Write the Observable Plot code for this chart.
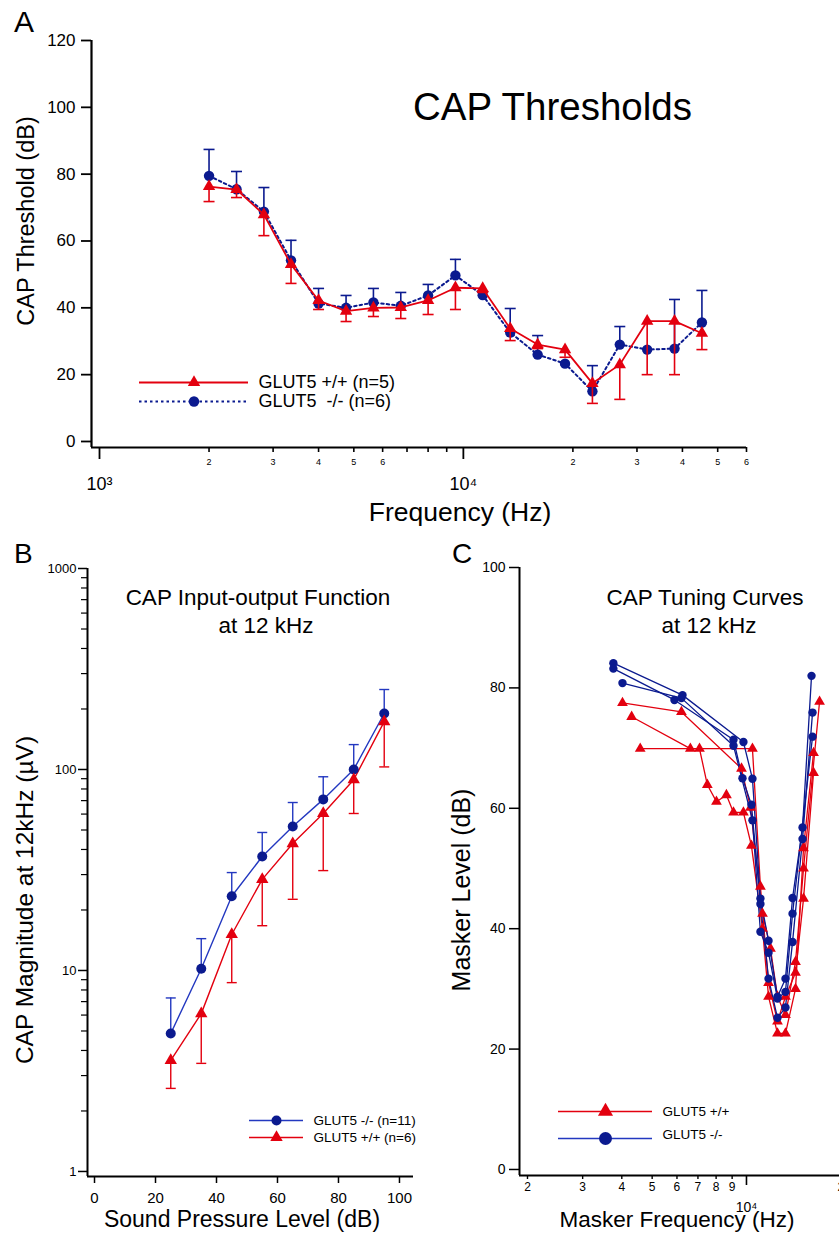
<!DOCTYPE html>
<html><head><meta charset="utf-8">
<script src="https://cdn.jsdelivr.net/npm/d3@7"></script>
<script src="https://cdn.jsdelivr.net/npm/@observablehq/plot@0.6"></script>
<style>
html,body{margin:0;padding:0;background:#fff;}
#page{position:relative;width:839px;height:1233px;overflow:hidden;background:#fff;}
.p{position:absolute;}
.p svg{max-width:none !important;}
</style></head><body><div id="page"></div>
<script>
// ---------- Panel A: CAP thresholds ----------
const freqA   = [2000, 2380, 2830, 3360, 4000, 4760, 5660, 6730, 8000, 9510, 11300, 13450, 16000, 19030, 22630, 26910, 32000, 38050, 45250];
const wtA     = [76.3, 75.4, 67.9, 53.0, 42.2, 39.0, 40.0, 40.1, 42.2, 46.0, 45.8, 33.8, 29.0, 27.5, 17.4, 23.0, 36.0, 36.0, 32.4];
const wtA_lo  = [71.8, 73.0, 61.6, 47.3, 39.5, 35.9, 37.4, 36.8, 38.0, 39.5, 44.6, 30.2, 27.8, 25.2, 11.4, 12.6, 20.0, 20.0, 27.5];
const koA     = [79.5, 75.5, 68.8, 54.2, 41.3, 40.0, 41.6, 40.6, 43.7, 49.7, 43.8, 32.6, 26.0, 23.3, 15.0, 29.0, 27.5, 27.8, 35.6];
const koA_hi  = [87.4, 80.8, 76.0, 60.2, 45.8, 43.7, 45.8, 44.6, 47.0, 54.5, 44.8, 39.8, 31.7, 23.3, 22.7, 34.4, 27.5, 42.5, 45.2];
const yTicksA = [0, 20, 40, 60, 80, 100, 120];
const minorTicksA = [2000, 3000, 4000, 5000, 6000, 7000, 8000, 9000, 20000, 30000, 40000, 50000, 60000];
const majorTicksA = [1000, 10000];
const legendA = ["GLUT5 +/+ (n=5)", "GLUT5\u00a0 -/- (n=6)"];

// ---------- Panel B: CAP input-output at 12 kHz ----------
const splB    = [25, 35, 45, 55, 65, 75, 85, 95];
const koB     = [4.86, 10.2, 23.4, 36.9, 52, 71, 100, 190];
const koB_hi  = [7.3, 14.4, 30.7, 48.6, 68.5, 92, 133, 250];
const wtB     = [3.57, 6.1, 15.1, 28.4, 42.8, 60.4, 89, 173];
const wtB_lo  = [2.59, 3.45, 8.7, 16.7, 22.6, 31.4, 60.4, 103];
const xTicksB = [0, 20, 40, 60, 80, 100];
const yMajorB = [1, 10, 100, 1000];
const yMinorB = [2,3,4,5,6,7,8,9,20,30,40,50,60,70,80,90,200,300,400,500,600,700,800,900];
const legendB = ["GLUT5 -/- (n=11)", "GLUT5 +/+ (n=6)"];

// ---------- Panel C: CAP tuning curves at 12 kHz (freq Hz, masker dB) ----------
const tcKO1 = [[3760,84.1],[6250,78.8],[9780,71.0],[10450,64.9],[11080,45.0],[11760,38.0],[12560,28.7],[13320,31.7],[14030,45.1],[15100,56.8],[16130,82.0]];
const tcKO2 = [[3760,83.2],[5890,78.0],[9090,71.4],[9710,65.0],[10370,60.6],[11080,44.1],[11760,31.7],[12560,25.2],[13320,26.9],[14030,37.8],[15100,54.9],[16250,75.9]];
const tcKO3 = [[4020,80.8],[6200,78.3],[9090,70.4],[10450,58.0],[11080,39.5],[11760,36.0],[12560,28.4],[13320,29.5],[14030,42.5],[16250,71.9]];
const tcWT1 = [[4020,77.5],[6200,76.0],[9640,66.6],[10300,60.1],[11250,42.5],[11930,36.7],[12560,28.7],[13320,25.7],[14340,34.5],[15210,50.0],[17110,77.7]];
const tcWT2 = [[4300,75.2],[6620,69.9],[7080,69.9],[7500,63.9],[8020,61.1],[8630,62.2],[9090,59.3],[9780,59.3],[10370,53.8],[11250,40.0],[11760,28.7],[12560,22.6],[13320,22.6],[14340,30.0],[15210,53.4],[16370,69.2]];
const tcWT3 = [[4580,69.9],[10450,69.9],[11080,47.0],[11760,31.0],[12560,24.6],[13320,28.7],[14340,32.7],[15210,45.0],[16370,65.9]];
const yTicksC = [0, 20, 40, 60, 80, 100];
const minorTicksC = [2000, 3000, 4000, 5000, 6000, 7000, 8000, 9000, 20000];
const majorTicksC = [10000];
const legendC = ["GLUT5 +/+", "GLUT5 -/-"];

// ---------- styling ----------
const RED = "#e3000f", NAVY = "#0b1a8f", BLUEL = "#2338c0";
const FONT = "'Liberation Sans', Arial, Helvetica, sans-serif";
const baseStyle = {fontFamily: FONT, background: "transparent", overflow: "visible", color: "#000", maxWidth: "none"};
const capSymbol = {draw(ctx, size) { const r = Math.sqrt(size / Math.PI); ctx.moveTo(-r, 0); ctx.lineTo(r, 0); }};
const sup = {"3": "\u00b3", "4": "\u2074"};
const pow10 = d => "10" + sup[String(Math.round(Math.log10(d)))];
const mant = d => String(Math.round(d / Math.pow(10, Math.floor(Math.log10(d) + 1e-9))));

const page = document.getElementById("page");
function place(node, left, top) {
  const div = document.createElement("div");
  div.className = "p"; div.style.left = left + "px"; div.style.top = top + "px";
  div.style.width = node.getAttribute("width") + "px";
  div.appendChild(node); page.appendChild(div);
}

// ---------- Panel A plot ----------
const rowsA = freqA.map((f, i) => ({f, wt: wtA[i], wtLo: wtA_lo[i], ko: koA[i], koHi: koA_hi[i]}));
const errKoA = rowsA.filter(d => d.koHi > d.ko + 0.3);
const errWtA = rowsA.filter(d => d.wtLo < d.wt - 0.3);
const xDomA = [950.6, 60000], yDomA = [-1.8, 120];
place(Plot.plot({
  width: 839, height: 530, marginLeft: 91, marginRight: 93, marginTop: 40, marginBottom: 83,
  x: {type: "log", domain: xDomA}, y: {domain: yDomA},
  style: baseStyle,
  marks: [
    Plot.ruleX([xDomA[0]], {strokeWidth: 2.2}),
    Plot.ruleY([yDomA[0]], {strokeWidth: 2.2}),
    Plot.axisY({ticks: yTicksA, tickSize: 10, tickPadding: 6, fontSize: 17, label: null, strokeWidth: 1.8}),
    Plot.axisX({ticks: minorTicksA, tickSize: 5, tickPadding: 6, fontSize: 9, tickFormat: mant, label: null, strokeWidth: 1.6}),
    Plot.axisX({ticks: majorTicksA, tickSize: 12, tickPadding: 18, fontSize: 18, tickFormat: pow10, label: null, strokeWidth: 1.8}),
    Plot.ruleX(errKoA, {x: "f", y1: "ko", y2: "koHi", stroke: NAVY, strokeWidth: 1.6}),
    Plot.dot(errKoA, {x: "f", y: "koHi", symbol: capSymbol, r: 5.5, stroke: NAVY, strokeWidth: 1.6}),
    Plot.line(rowsA, {x: "f", y: "ko", stroke: NAVY, strokeWidth: 2, strokeDasharray: "2.5,3"}),
    Plot.dot(rowsA, {x: "f", y: "ko", r: 5.2, fill: NAVY}),
    Plot.ruleX(errWtA, {x: "f", y1: "wtLo", y2: "wt", stroke: RED, strokeWidth: 1.6}),
    Plot.dot(errWtA, {x: "f", y: "wtLo", symbol: capSymbol, r: 5.5, stroke: RED, strokeWidth: 1.6}),
    Plot.line(rowsA, {x: "f", y: "wt", stroke: RED, strokeWidth: 1.8}),
    Plot.dot(rowsA, {x: "f", y: "wt", symbol: "triangle", r: 4.6, fill: RED})
  ]
}), 0, 0);

// ---------- Panel B plot ----------
const rowsB = splB.map((s, i) => ({s, ko: koB[i], koHi: koB_hi[i], wt: wtB[i], wtLo: wtB_lo[i]}));
const xDomB = [-2.3, 104.6], yDomB = [0.944, 1000];
place(Plot.plot({
  width: 420, height: 693, marginLeft: 87, marginRight: 7, marginTop: 28, marginBottom: 57,
  x: {domain: xDomB}, y: {type: "log", domain: yDomB},
  style: baseStyle,
  marks: [
    Plot.ruleX([xDomB[0]], {strokeWidth: 2}),
    Plot.ruleY([yDomB[0]], {strokeWidth: 2}),
    Plot.axisY({ticks: yMajorB, tickSize: 9, tickPadding: 2, fontSize: 13, tickFormat: d => String(d), label: null, strokeWidth: 1.5}),
    Plot.axisY({ticks: yMinorB, tickSize: 6, tickFormat: () => "", label: null, strokeWidth: 1.2}),
    Plot.axisX({ticks: xTicksB, tickSize: 7, tickPadding: 9, fontSize: 15, label: null, strokeWidth: 1.5}),
    Plot.ruleX(rowsB, {x: "s", y1: "ko", y2: "koHi", stroke: BLUEL, strokeWidth: 1.4}),
    Plot.dot(rowsB, {x: "s", y: "koHi", symbol: capSymbol, r: 5, stroke: BLUEL, strokeWidth: 1.4}),
    Plot.ruleX(rowsB, {x: "s", y1: "wtLo", y2: "wt", stroke: RED, strokeWidth: 1.4}),
    Plot.dot(rowsB, {x: "s", y: "wtLo", symbol: capSymbol, r: 5, stroke: RED, strokeWidth: 1.4}),
    Plot.line(rowsB, {x: "s", y: "ko", stroke: BLUEL, strokeWidth: 1.4}),
    Plot.line(rowsB, {x: "s", y: "wt", stroke: RED, strokeWidth: 1.4}),
    Plot.dot(rowsB, {x: "s", y: "ko", r: 5, fill: NAVY}),
    Plot.dot(rowsB, {x: "s", y: "wt", symbol: "triangle", r: 4.6, fill: RED})
  ]
}), 0, 540);

// ---------- Panel C plot ----------
const curvesC = [
  {id: "ko1", g: "ko", pts: tcKO1}, {id: "ko2", g: "ko", pts: tcKO2}, {id: "ko3", g: "ko", pts: tcKO3},
  {id: "wt1", g: "wt", pts: tcWT1}, {id: "wt2", g: "wt", pts: tcWT2}, {id: "wt3", g: "wt", pts: tcWT3}
];
const rowsC = curvesC.flatMap(c => c.pts.map(([f, l]) => ({id: c.id, g: c.g, f, l})));
const koC = rowsC.filter(d => d.g === "ko"), wtC = rowsC.filter(d => d.g === "wt");
const xDomC = [1886, 21480], yDomC = [-1.0, 100];
place(Plot.plot({
  width: 430, height: 693, marginLeft: 99, marginRight: 0, marginTop: 27, marginBottom: 58,
  x: {type: "log", domain: xDomC}, y: {domain: yDomC},
  style: baseStyle,
  marks: [
    Plot.ruleX([xDomC[0]], {strokeWidth: 2}),
    Plot.ruleY([yDomC[0]], {strokeWidth: 2}),
    Plot.axisY({ticks: yTicksC, tickSize: 10, tickPadding: 4, fontSize: 14, label: null, strokeWidth: 1.5}),
    Plot.axisX({ticks: minorTicksC, tickSize: 4, tickPadding: 3, fontSize: 12, tickFormat: mant, label: null, strokeWidth: 1.4}),
    Plot.axisX({ticks: majorTicksC, tickSize: 10, tickPadding: 17, fontSize: 14, tickFormat: pow10, label: null, strokeWidth: 1.6}),
    Plot.line(wtC, {x: "f", y: "l", z: "id", stroke: RED, strokeWidth: 1.3}),
    Plot.line(koC, {x: "f", y: "l", z: "id", stroke: NAVY, strokeWidth: 1.3}),
    Plot.dot(wtC, {x: "f", y: "l", symbol: "triangle", r: 4, fill: RED}),
    Plot.dot(koC, {x: "f", y: "l", r: 4.2, fill: NAVY})
  ]
}), 420, 540);

// ---------- Legends (small plots, one row per series) ----------
function legendPlot(labels, styles, opts) {
  const rows = labels.map((label, i) => ({label, ...styles[i]}));
  const marks = [];
  rows.forEach(r => {
    marks.push(Plot.ruleY([r], {y: "label", x1: 0, x2: 1, stroke: r.line, strokeWidth: r.lw, strokeDasharray: r.dash}));
    marks.push(Plot.dot([r], {y: "label", x: 0.5, symbol: r.sym, r: r.r, fill: r.mark}));
    marks.push(Plot.text([r], {y: "label", x: 1, text: "label", dx: opts.dx, dy: r.tdy || 0, textAnchor: "start", fontSize: opts.fontSize, fill: "#000"}));
  });
  return Plot.plot({
    width: opts.width, height: opts.height, marginLeft: opts.left, marginRight: opts.right, marginTop: 0, marginBottom: 0,
    x: {domain: [0, 1], axis: null},
    y: {type: "point", domain: labels, range: opts.yRange, padding: 0, axis: null},
    style: baseStyle, marks
  });
}
place(legendPlot(legendA, [
  {line: RED, lw: 1.8, sym: "triangle", r: 4.6, mark: RED},
  {line: NAVY, lw: 2, dash: "2.5,3", sym: "circle", r: 5.2, mark: NAVY}
], {width: 420, height: 50, left: 139, right: 172, yRange: [20, 39], dx: 10, fontSize: 18}), 0, 362);
place(legendPlot(legendB, [
  {line: BLUEL, lw: 1.4, sym: "circle", r: 5, mark: NAVY},
  {line: RED, lw: 1.4, sym: "triangle", r: 4.6, mark: RED}
], {width: 420, height: 50, left: 249, right: 117, yRange: [20, 37], dx: 10, fontSize: 13.5}), 0, 1100);
place(legendPlot(legendC, [
  {line: RED, lw: 1.6, sym: "triangle", r: 5.6, mark: RED},
  {line: BLUEL, lw: 1.6, sym: "circle", r: 6.5, mark: NAVY, tdy: -4}
], {width: 419, height: 60, left: 138, right: 187, yRange: [21, 48], dx: 10, fontSize: 13.5}), 420, 1090);

// ---------- Panel letters, titles and axis titles ----------
const labels = [
  {t: "A", x: 14, y: 32, s: 30, a: "start"},
  {t: "CAP Thresholds", x: 413, y: 120, s: 38.5, a: "start"},
  {t: "Frequency (Hz)", x: 460, y: 521, s: 26.5, a: "middle"},
  {t: "CAP Threshold (dB)", x: 34, y: 221, s: 23.5, a: "middle", rot: true},
  {t: "B", x: 14, y: 563, s: 28, a: "start"},
  {t: "CAP Input-output Function", x: 258, y: 605, s: 22.5, a: "middle"},
  {t: "at 12 kHz", x: 266, y: 633, s: 22.5, a: "middle"},
  {t: "CAP Magnitude at 12kHz (\u00b5V)", x: 33, y: 900, s: 24.5, a: "middle", rot: true},
  {t: "Sound Pressure Level (dB)", x: 242, y: 1227, s: 23, a: "middle"},
  {t: "C", x: 452, y: 563, s: 28, a: "start"},
  {t: "CAP Tuning Curves", x: 705, y: 605, s: 22.5, a: "middle"},
  {t: "at 12 kHz", x: 709, y: 633, s: 22.5, a: "middle"},
  {t: "Masker Level (dB)", x: 470, y: 890, s: 25, a: "middle", rot: true},
  {t: "Masker Frequency (Hz)", x: 677, y: 1227, s: 22.5, a: "middle"}
];
const svg = d3.create("svg").attr("width", 839).attr("height", 1233)
  .style("position", "absolute").style("left", "0px").style("top", "0px").style("pointer-events", "none");
svg.selectAll("text").data(labels).join("text")
  .attr("transform", d => d.rot ? `translate(${d.x},${d.y}) rotate(-90)` : `translate(${d.x},${d.y})`)
  .attr("text-anchor", d => d.a)
  .attr("font-family", FONT)
  .attr("font-size", d => d.s)
  .attr("fill", "#000")
  .text(d => d.t);
page.appendChild(svg.node());
</script></body></html>
